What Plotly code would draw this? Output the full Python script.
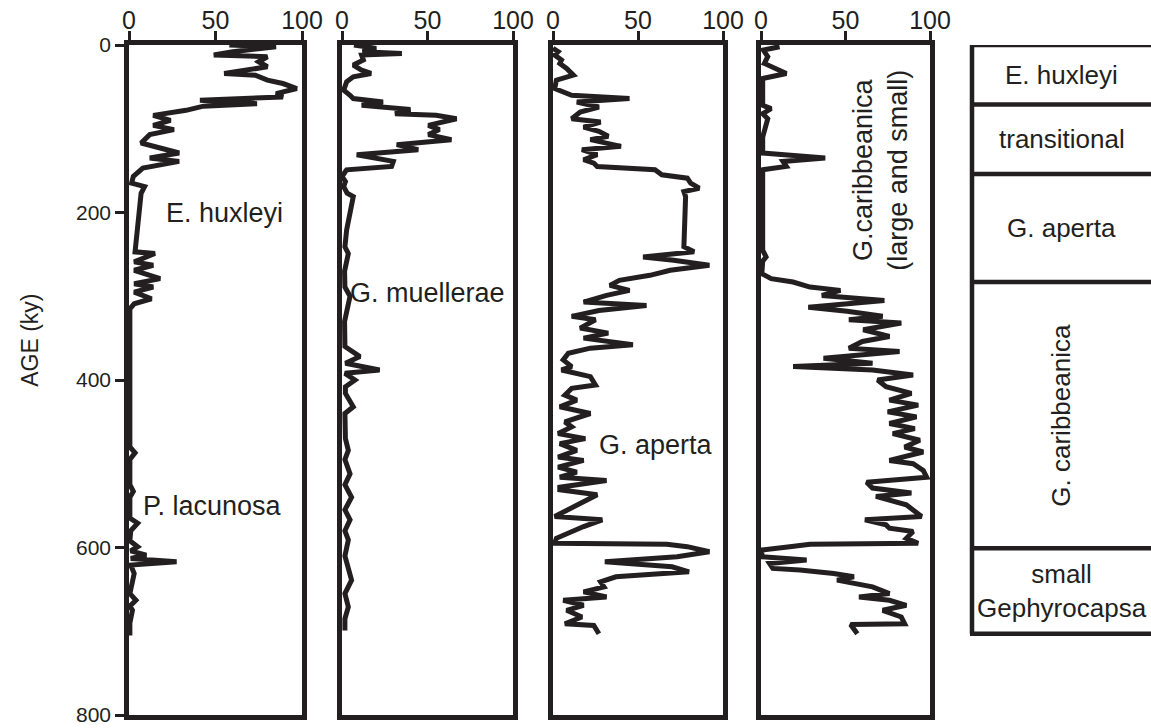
import plotly.graph_objects as go

INK = "#231f20"
FONT = "Liberation Sans, Arial, Helvetica, sans-serif"
NARROW = "Liberation Sans Narrow, Arial Narrow, sans-serif"

# ---------------- data (age in ky, abundance in %) ----------------
age1 = [0, 2, 8, 12, 14, 20, 26, 34, 36, 42, 46, 52, 58, 62, 66, 70, 73, 78, 84, 90,
        96, 101, 107, 117, 123, 129, 135, 139, 147, 157, 165, 169, 177, 221, 247, 249,
        259, 263, 269, 279, 285, 289, 295, 303, 309, 315, 350, 400, 480, 487, 495, 525,
        533, 540, 565, 571, 580, 592, 599, 604, 609, 613, 617, 621, 631, 655, 663, 670,
        675, 690, 705]
val1 = [58, 85, 60, 49, 80, 75, 80, 55, 73, 80, 89, 97, 85, 89, 41, 74, 43, 33, 14, 24,
        14, 26, 12, 7, 18, 29, 12, 29, 8, 2.5, 1.5, 9, 7, 4.4, 3.5, 15,
        3, 14, 3, 18, 3, 14, 3, 13, 3, 0.5, 0.5, 0.5, 0.5, 3.5, 0.5, 0.5,
        2.5, 0.5, 0.5, 5, 1, 0.5, 5, 1, 10, 1, 27.5, 1, 3, 0.5, 4, 0.5,
        2, 0.5, 0.5]

age2 = [0, 4, 8, 10, 12, 18, 24, 30, 34, 38, 44, 54, 60, 64, 68, 72, 77, 82, 84, 88,
        96, 101, 107, 113, 119, 125, 131, 139, 145, 149, 157, 163, 169, 177, 181, 221,
        241, 249, 270, 289, 300, 330, 360, 372, 380, 388, 392, 400, 408, 416, 432, 440,
        470, 484, 495, 512, 525, 540, 555, 567, 580, 591, 610, 639, 655, 671, 685, 699]
val2 = [7, 20, 12, 35, 11.5, 12.5, 6.6, 11.5, 17, 6.6, 2.7, 1, 4.7, 6.6, 24, 11.5, 40, 31, 55, 67,
        50.5, 57, 50.5, 64, 32, 44.6, 8.6, 30, 29, 2.7, 0, 2, 1, 3, 6.6, 2.7,
        1.7, 3.7, 1.5, 1.7, 4.7, 1.5, 1.7, 10.5, 2, 22, 1.7, 7.6, 2, 2, 6.6, 1.7,
        2, 3.7, 1.7, 4.7, 1.7, 5.6, 1.7, 4.7, 1.7, 3.7, 1.7, 5.6, 1.7, 3.7, 1.7, 1.7]

age3 = [4, 8, 12, 18, 22, 28, 36, 42, 52, 60, 64, 68, 74, 80, 88, 92, 98, 103, 109, 113,
        121, 125, 131, 137, 141, 145, 149, 155, 159, 165, 171, 175, 181, 241, 247, 253,
        257, 263, 269, 275, 281, 287, 293, 299, 307, 311, 317, 324, 328, 338, 344, 350,
        358, 362, 368, 376, 384, 388, 396, 406, 410, 418, 424, 432, 440, 450, 456, 464,
        470, 476, 484, 492, 496, 504, 510, 516, 520, 528, 531, 537, 563, 567, 575, 589,
        595, 596, 599, 605, 611, 617, 623, 629, 635, 641, 647, 653, 659, 663, 669, 675,
        683, 691, 693, 703]
val3 = [0, 3, 1, 5, 4, 8, 12, 2, 1, 11, 45, 14, 27, 16, 11, 28, 18, 27, 32.5, 22,
        40, 17, 26, 18, 24, 26, 60, 64, 79, 81, 86, 77, 78, 77, 83, 53,
        71, 92, 69, 57, 39, 33.5, 45, 31.5, 18, 55, 27, 11, 25, 16, 32.5, 18,
        47, 22, 9, 6, 11, 5, 22, 25, 11, 7, 14, 4, 22, 7, 11, 3,
        19, 4, 14, 3, 18, 3, 14, 4, 31.5, 4, 4, 26, 1, 29, 18, 2,
        1, 67, 79, 92, 73, 30.5, 70, 80, 37, 28, 30, 18, 31.5, 6, 18, 8,
        17, 7, 24, 27]

age4 = [2, 6, 14, 22, 34, 40, 60, 72, 76, 82, 88, 110, 129, 135, 139, 145, 149, 200,
        245, 253, 258, 273, 279, 283, 289, 293, 299, 305, 313, 318, 324, 328, 332, 340,
        348, 354, 362, 366, 374, 380, 384, 388, 394, 400, 408, 416, 424, 430, 438, 444,
        452, 458, 464, 472, 480, 486, 496, 500, 508, 516, 522, 529, 535, 539, 549, 563,
        567, 573, 577, 581, 589, 595, 596, 599, 603, 611, 615, 619, 625, 627, 631, 635,
        639, 647, 655, 659, 663, 669, 675, 683, 691, 692, 703]
val4 = [11, 1.4, 4, 2, 15, 1, 1, 1, 6, 1, 4, 1, 1, 38, 13, 15, 1, 1,
        1, 3, 1, 0.5, 6, 19, 29, 47, 36, 73, 28, 51, 72, 52, 83, 60.5,
        76, 60, 52, 82, 37, 66, 19, 66, 90, 69, 74, 89, 76, 93, 75, 92,
        76, 91, 78, 94, 85, 96, 76, 90, 96, 98, 62.5, 66, 89, 68, 86, 95,
        61.5, 74, 76, 90, 86, 93, 29, 17, 0.5, 0.5, 27, 5, 7, 23, 43, 55,
        45, 66, 76, 58, 76, 86, 72, 83, 85, 53, 57]

x_ticks = [0, 50, 100]
y_ticks = [0, 200, 400, 600, 800]

panel_labels = ["E. huxleyi", "P. lacunosa", "G. muellerae", "G. aperta",
                "G.caribbeanica<br>(large and small)"]
panel_label_pos = [(1, 55, 200), (1, 48, 551), (2, 50, 296), (3, 60.5, 478), (4, 71, 149)]

zone_bounds = [0, 71, 154, 283, 601, 703]
zone_names = ["E. huxleyi", "transitional", "G. aperta", "G. caribbeanica",
              "small<br>Gephyrocapsa"]

# ---------------- layout geometry (pixels) ----------------
W, H = 1151, 728
panels_px = [(129, 302), (342, 513), (553, 723), (761, 930)]
y_top_px, y_bot_px = 45, 715
zone_left_px = 972
LBL = 27   # annotation font size
ZLBL = 26  # zone label font size
TTL = 23   # y-axis title font size
XTCK = 25  # top tick font size (narrow face)
YTCK = 21  # left tick font size

fig = go.Figure()
series = [(val1, age1), (val2, age2), (val3, age3), (val4, age4)]
for i, (v, a) in enumerate(series):
    sfx = "" if i == 0 else str(i + 1)
    fig.add_trace(go.Scatter(x=v, y=a, mode="lines", xaxis="x" + sfx, yaxis="y" + sfx,
                             line=dict(color=INK, width=5), showlegend=False,
                             hoverinfo="skip"))

ydom = [1 - y_bot_px / H, 1 - y_top_px / H]
layout = dict(width=W, height=H, margin=dict(l=0, r=0, t=0, b=0, autoexpand=False),
              paper_bgcolor="white", plot_bgcolor="white",
              font=dict(family=FONT, color=INK, size=21), showlegend=False)
for i, (l, r) in enumerate(panels_px):
    sfx = "" if i == 0 else str(i + 1)
    layout["xaxis" + sfx] = dict(
        domain=[l / W, r / W], range=[0, 100], side="top", anchor="y" + sfx,
        tickvals=x_ticks, ticks="outside", ticklen=9, tickwidth=3, tickcolor=INK,
        ticklabelstandoff=-8,
        showline=True, linewidth=4.5, linecolor=INK, mirror=True, showgrid=False,
        zeroline=False, automargin=False,
        tickfont=dict(size=XTCK, family=NARROW, color=INK), fixedrange=True)
    ya = dict(domain=ydom, range=[800, 0], anchor="x" + sfx, showline=True, linewidth=4.5,
              linecolor=INK, mirror=True, showgrid=False, zeroline=False,
              automargin=False, fixedrange=True)
    if i == 0:
        ya.update(tickvals=y_ticks, ticks="outside", ticklen=9, tickwidth=3, tickcolor=INK,
                  tickfont=dict(size=YTCK, family=FONT, color=INK))
    else:
        ya.update(matches="y", showticklabels=False, ticks="")
    layout["yaxis" + sfx] = ya
fig.update_layout(**layout)

annotations = []
for text, (p, xv, yv) in zip(panel_labels, panel_label_pos):
    sfx = "" if p == 1 else str(p)
    ann = dict(text=text, x=xv, y=yv, xref="x" + sfx, yref="y" + sfx, showarrow=False,
               xanchor="center", yanchor="middle",
               font=dict(size=LBL, family=FONT, color=INK))
    if p == 4:
        ann["textangle"] = -90
    annotations.append(ann)

# y-axis title
annotations.append(dict(text="AGE (ky)", x=30 / W, y=352, xref="paper", yref="y",
                        showarrow=False, textangle=-90, xanchor="center", yanchor="middle",
                        font=dict(size=TTL, family=FONT, color=INK)))

# zone column
shapes = []
zl = zone_left_px / W
shapes.append(dict(type="line", xref="paper", yref="y", x0=zl, x1=zl,
                   y0=zone_bounds[0], y1=zone_bounds[-1], line=dict(color=INK, width=4.5)))
for b in zone_bounds:
    shapes.append(dict(type="line", xref="paper", yref="y", x0=zl - 2 / W, x1=1.0, y0=b, y1=b,
                       line=dict(color=INK, width=4.5)))
zc = (zone_left_px + W) / 2 / W
for k, name in enumerate(zone_names):
    mid = (zone_bounds[k] + zone_bounds[k + 1]) / 2
    ann = dict(text=name, x=zc, y=mid, xref="paper", yref="y", showarrow=False,
               xanchor="center", yanchor="middle",
               font=dict(size=ZLBL, family=FONT, color=INK))
    if name == "G. caribbeanica":
        ann["textangle"] = -90
    annotations.append(ann)

fig.update_layout(annotations=annotations, shapes=shapes)
fig.write_html("out.html", config={"displayModeBar": False},
               post_script="document.body.style.margin='0';"
               "document.body.style.overflow='hidden';")
